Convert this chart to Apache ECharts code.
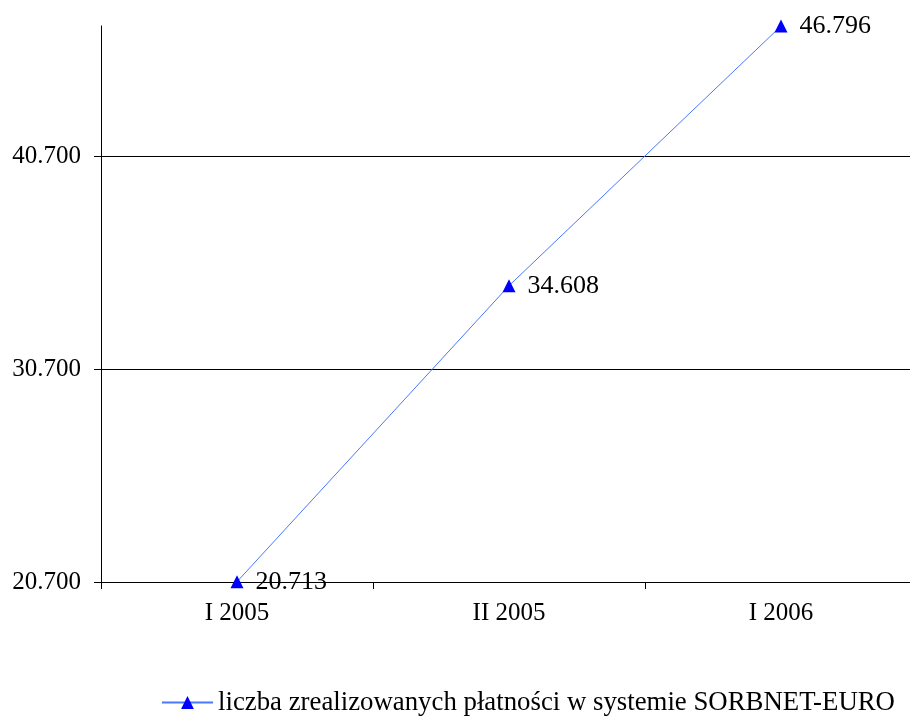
<!DOCTYPE html>
<html>
<head>
<meta charset="utf-8">
<script src="https://cdn.jsdelivr.net/npm/echarts@6/dist/echarts.min.js"></script>
<style>
  html, body { margin: 0; padding: 0; background: #fff; }
  #chart { width: 910px; height: 716px; }
</style>
</head>
<body>
<div id="chart"></div>
<script>
var categories = ['I 2005', 'II 2005', 'I 2006'];
var payments = [20713, 34608, 46796];
var seriesName = 'liczba zrealizowanych płatności w systemie SORBNET-EURO';

// format 40700 -> 40.700
function fmt(v) {
    return String(Math.round(v)).replace(/\B(?=(\d{3})+(?!\d))/g, '.');
}

var font = "'Liberation Serif', 'Times New Roman', serif";
var myChart = echarts.init(document.getElementById('chart'));

var option = {
    animation: false,
    textStyle: { fontFamily: font },
    grid: {
        left: 101,
        top: 26,
        width: 816,
        bottom: 134,
        outerBoundsMode: 'none'
    },
    legend: {
        data: [seriesName],
        left: 156,
        top: 684,
        itemWidth: 51,
        itemHeight: 16,
        itemGap: 6,
        textStyle: { fontFamily: font, fontSize: 26.8, color: '#000' }
    },
    xAxis: {
        type: 'category',
        data: categories,
        boundaryGap: true,
        axisLine: { lineStyle: { color: '#000', width: 1 } },
        axisTick: { show: true, length: 7, lineStyle: { color: '#000' } },
        axisLabel: { fontFamily: font, fontSize: 25, color: '#000', margin: 19 },
        splitLine: { show: false }
    },
    yAxis: {
        type: 'value',
        min: 20700,
        max: 46800,
        interval: 10000,
        axisLine: { show: true, lineStyle: { color: '#000', width: 1 } },
        axisTick: { show: true, length: 7, lineStyle: { color: '#000' } },
        axisLabel: {
            fontFamily: font, fontSize: 25, color: '#000', margin: 20,
            showMaxLabel: false,
            formatter: function (v) { return fmt(v); }
        },
        splitLine: { show: true, showMaxLine: false, lineStyle: { color: '#000', width: 1 } }
    },
    series: [
        {
            name: seriesName,
            type: 'line',
            data: payments,
            symbol: 'triangle',
            symbolSize: 13,
            itemStyle: { color: '#0000ff' },
            lineStyle: { color: '#4a78ff', width: 1 },
            label: {
                show: true,
                position: 'right',
                distance: 12,
                fontFamily: font,
                fontSize: 26,
                color: '#000',
                formatter: function (p) { return fmt(p.value); }
            }
        }
    ]
};

myChart.setOption(option, true);
</script>
</body>
</html>
